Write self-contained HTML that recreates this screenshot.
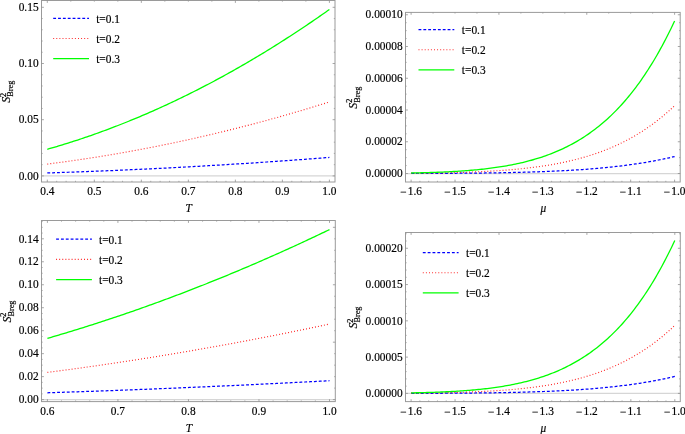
<!DOCTYPE html>
<html><head><meta charset="utf-8"><style>
html,body{margin:0;padding:0;background:#fff;overflow:hidden;}
svg{display:block;font-family:"Liberation Serif",serif;filter:opacity(1);}
text{fill:#000;stroke:#000;stroke-width:0.18px;}
</style></head><body>
<svg width="685" height="434" viewBox="0 0 685 434">
<rect width="685" height="434" fill="#fff"/>
<line x1="41.50" y1="175.90" x2="335.00" y2="175.90" stroke="#d6d6d6" stroke-width="1.25" />
<path d="M47.30,172.94 L49.19,172.88 L51.09,172.82 L52.98,172.76 L54.87,172.70 L56.77,172.64 L58.66,172.57 L60.55,172.51 L62.45,172.45 L64.34,172.38 L66.23,172.32 L68.13,172.25 L70.02,172.18 L71.91,172.12 L73.81,172.05 L75.70,171.98 L77.59,171.91 L79.49,171.84 L81.38,171.77 L83.27,171.70 L85.17,171.63 L87.06,171.56 L88.95,171.49 L90.85,171.41 L92.74,171.34 L94.63,171.27 L96.53,171.19 L98.42,171.11 L100.31,171.04 L102.21,170.96 L104.10,170.88 L105.99,170.81 L107.89,170.73 L109.78,170.65 L111.67,170.57 L113.57,170.49 L115.46,170.41 L117.35,170.33 L119.24,170.25 L121.14,170.16 L123.03,170.08 L124.92,170.00 L126.82,169.91 L128.71,169.83 L130.60,169.74 L132.50,169.65 L134.39,169.57 L136.28,169.48 L138.18,169.39 L140.07,169.30 L141.96,169.21 L143.86,169.12 L145.75,169.03 L147.64,168.94 L149.54,168.85 L151.43,168.76 L153.32,168.67 L155.22,168.57 L157.11,168.48 L159.00,168.38 L160.90,168.29 L162.79,168.19 L164.68,168.10 L166.58,168.00 L168.47,167.90 L170.36,167.80 L172.26,167.70 L174.15,167.60 L176.04,167.50 L177.94,167.40 L179.83,167.30 L181.72,167.20 L183.62,167.10 L185.51,167.00 L187.40,166.89 L189.30,166.79 L191.19,166.68 L193.08,166.58 L194.98,166.47 L196.87,166.36 L198.76,166.26 L200.66,166.15 L202.55,166.04 L204.44,165.93 L206.34,165.82 L208.23,165.71 L210.12,165.60 L212.02,165.49 L213.91,165.38 L215.80,165.27 L217.70,165.15 L219.59,165.04 L221.48,164.92 L223.38,164.81 L225.27,164.69 L227.16,164.58 L229.06,164.46 L230.95,164.34 L232.84,164.22 L234.74,164.11 L236.63,163.99 L238.52,163.87 L240.42,163.75 L242.31,163.63 L244.20,163.50 L246.10,163.38 L247.99,163.26 L249.88,163.14 L251.78,163.01 L253.67,162.89 L255.56,162.76 L257.46,162.64 L259.35,162.51 L261.24,162.38 L263.13,162.25 L265.03,162.13 L266.92,162.00 L268.81,161.87 L270.71,161.74 L272.60,161.61 L274.49,161.48 L276.39,161.34 L278.28,161.21 L280.17,161.08 L282.07,160.95 L283.96,160.81 L285.85,160.68 L287.75,160.54 L289.64,160.41 L291.53,160.27 L293.43,160.13 L295.32,159.99 L297.21,159.86 L299.11,159.72 L301.00,159.58 L302.89,159.44 L304.79,159.30 L306.68,159.15 L308.57,159.01 L310.47,158.87 L312.36,158.73 L314.25,158.58 L316.15,158.44 L318.04,158.29 L319.93,158.15 L321.83,158.00 L323.72,157.85 L325.61,157.71 L327.51,157.56 L329.40,157.41" fill="none" stroke="#0000ff" stroke-width="1.25" stroke-dasharray="2.9 1.95"/>
<path d="M47.30,164.07 L49.19,163.83 L51.09,163.59 L52.98,163.34 L54.87,163.09 L56.77,162.85 L58.66,162.59 L60.55,162.34 L62.45,162.08 L64.34,161.83 L66.23,161.56 L68.13,161.30 L70.02,161.03 L71.91,160.77 L73.81,160.50 L75.70,160.22 L77.59,159.95 L79.49,159.67 L81.38,159.39 L83.27,159.11 L85.17,158.82 L87.06,158.53 L88.95,158.24 L90.85,157.95 L92.74,157.66 L94.63,157.36 L96.53,157.06 L98.42,156.76 L100.31,156.46 L102.21,156.15 L104.10,155.84 L105.99,155.53 L107.89,155.21 L109.78,154.90 L111.67,154.58 L113.57,154.26 L115.46,153.94 L117.35,153.61 L119.24,153.28 L121.14,152.95 L123.03,152.62 L124.92,152.28 L126.82,151.94 L128.71,151.60 L130.60,151.26 L132.50,150.92 L134.39,150.57 L136.28,150.22 L138.18,149.87 L140.07,149.51 L141.96,149.16 L143.86,148.80 L145.75,148.43 L147.64,148.07 L149.54,147.70 L151.43,147.33 L153.32,146.96 L155.22,146.59 L157.11,146.21 L159.00,145.83 L160.90,145.45 L162.79,145.07 L164.68,144.68 L166.58,144.30 L168.47,143.91 L170.36,143.51 L172.26,143.12 L174.15,142.72 L176.04,142.32 L177.94,141.92 L179.83,141.51 L181.72,141.10 L183.62,140.70 L185.51,140.28 L187.40,139.87 L189.30,139.45 L191.19,139.03 L193.08,138.61 L194.98,138.19 L196.87,137.76 L198.76,137.33 L200.66,136.90 L202.55,136.47 L204.44,136.03 L206.34,135.59 L208.23,135.15 L210.12,134.71 L212.02,134.26 L213.91,133.81 L215.80,133.36 L217.70,132.91 L219.59,132.45 L221.48,132.00 L223.38,131.54 L225.27,131.07 L227.16,130.61 L229.06,130.14 L230.95,129.67 L232.84,129.20 L234.74,128.73 L236.63,128.25 L238.52,127.77 L240.42,127.29 L242.31,126.80 L244.20,126.32 L246.10,125.83 L247.99,125.34 L249.88,124.84 L251.78,124.35 L253.67,123.85 L255.56,123.35 L257.46,122.84 L259.35,122.34 L261.24,121.83 L263.13,121.32 L265.03,120.81 L266.92,120.29 L268.81,119.77 L270.71,119.25 L272.60,118.73 L274.49,118.21 L276.39,117.68 L278.28,117.15 L280.17,116.62 L282.07,116.08 L283.96,115.55 L285.85,115.01 L287.75,114.47 L289.64,113.92 L291.53,113.37 L293.43,112.83 L295.32,112.27 L297.21,111.72 L299.11,111.16 L301.00,110.61 L302.89,110.05 L304.79,109.48 L306.68,108.92 L308.57,108.35 L310.47,107.78 L312.36,107.21 L314.25,106.63 L316.15,106.05 L318.04,105.47 L319.93,104.89 L321.83,104.30 L323.72,103.72 L325.61,103.13 L327.51,102.54 L329.40,101.94" fill="none" stroke="#ff2020" stroke-width="1.15" stroke-dasharray="0.95 2.1"/>
<path d="M47.30,149.27 L49.19,148.74 L51.09,148.19 L52.98,147.64 L54.87,147.09 L56.77,146.53 L58.66,145.96 L60.55,145.39 L62.45,144.81 L64.34,144.23 L66.23,143.64 L68.13,143.05 L70.02,142.45 L71.91,141.85 L73.81,141.24 L75.70,140.63 L77.59,140.01 L79.49,139.38 L81.38,138.75 L83.27,138.12 L85.17,137.47 L87.06,136.83 L88.95,136.18 L90.85,135.52 L92.74,134.85 L94.63,134.19 L96.53,133.51 L98.42,132.83 L100.31,132.15 L102.21,131.46 L104.10,130.76 L105.99,130.06 L107.89,129.36 L109.78,128.65 L111.67,127.93 L113.57,127.21 L115.46,126.48 L117.35,125.75 L119.24,125.01 L121.14,124.26 L123.03,123.51 L124.92,122.76 L126.82,122.00 L128.71,121.23 L130.60,120.46 L132.50,119.69 L134.39,118.91 L136.28,118.12 L138.18,117.33 L140.07,116.53 L141.96,115.72 L143.86,114.92 L145.75,114.10 L147.64,113.28 L149.54,112.46 L151.43,111.63 L153.32,110.79 L155.22,109.95 L157.11,109.11 L159.00,108.25 L160.90,107.40 L162.79,106.53 L164.68,105.67 L166.58,104.79 L168.47,103.91 L170.36,103.03 L172.26,102.14 L174.15,101.24 L176.04,100.34 L177.94,99.44 L179.83,98.53 L181.72,97.61 L183.62,96.69 L185.51,95.76 L187.40,94.83 L189.30,93.89 L191.19,92.95 L193.08,92.00 L194.98,91.04 L196.87,90.08 L198.76,89.12 L200.66,88.15 L202.55,87.17 L204.44,86.19 L206.34,85.20 L208.23,84.21 L210.12,83.22 L212.02,82.21 L213.91,81.20 L215.80,80.19 L217.70,79.17 L219.59,78.15 L221.48,77.12 L223.38,76.08 L225.27,75.04 L227.16,73.99 L229.06,72.94 L230.95,71.89 L232.84,70.82 L234.74,69.76 L236.63,68.68 L238.52,67.61 L240.42,66.52 L242.31,65.43 L244.20,64.34 L246.10,63.24 L247.99,62.13 L249.88,61.02 L251.78,59.90 L253.67,58.78 L255.56,57.66 L257.46,56.52 L259.35,55.39 L261.24,54.24 L263.13,53.09 L265.03,51.94 L266.92,50.78 L268.81,49.62 L270.71,48.45 L272.60,47.27 L274.49,46.09 L276.39,44.90 L278.28,43.71 L280.17,42.51 L282.07,41.31 L283.96,40.10 L285.85,38.89 L287.75,37.67 L289.64,36.45 L291.53,35.22 L293.43,33.98 L295.32,32.74 L297.21,31.50 L299.11,30.25 L301.00,28.99 L302.89,27.73 L304.79,26.46 L306.68,25.19 L308.57,23.91 L310.47,22.63 L312.36,21.34 L314.25,20.04 L316.15,18.74 L318.04,17.44 L319.93,16.13 L321.83,14.81 L323.72,13.49 L325.61,12.16 L327.51,10.83 L329.40,9.49" fill="none" stroke="#00ff00" stroke-width="1.3" />
<rect x="41.50" y="0.50" width="293.50" height="181.50" fill="none" stroke="#9a9a9a" stroke-width="1"/>
<line x1="47.30" y1="182.00" x2="47.30" y2="179.60" stroke="#909090" stroke-width="0.8" />
<line x1="94.32" y1="182.00" x2="94.32" y2="179.60" stroke="#909090" stroke-width="0.8" />
<line x1="141.33" y1="182.00" x2="141.33" y2="179.60" stroke="#909090" stroke-width="0.8" />
<line x1="188.35" y1="182.00" x2="188.35" y2="179.60" stroke="#909090" stroke-width="0.8" />
<line x1="235.37" y1="182.00" x2="235.37" y2="179.60" stroke="#909090" stroke-width="0.8" />
<line x1="282.38" y1="182.00" x2="282.38" y2="179.60" stroke="#909090" stroke-width="0.8" />
<line x1="329.40" y1="182.00" x2="329.40" y2="179.60" stroke="#909090" stroke-width="0.8" />
<line x1="56.70" y1="182.00" x2="56.70" y2="180.80" stroke="#909090" stroke-width="0.7" />
<line x1="66.11" y1="182.00" x2="66.11" y2="180.80" stroke="#909090" stroke-width="0.7" />
<line x1="75.51" y1="182.00" x2="75.51" y2="180.80" stroke="#909090" stroke-width="0.7" />
<line x1="84.91" y1="182.00" x2="84.91" y2="180.80" stroke="#909090" stroke-width="0.7" />
<line x1="103.72" y1="182.00" x2="103.72" y2="180.80" stroke="#909090" stroke-width="0.7" />
<line x1="113.12" y1="182.00" x2="113.12" y2="180.80" stroke="#909090" stroke-width="0.7" />
<line x1="122.53" y1="182.00" x2="122.53" y2="180.80" stroke="#909090" stroke-width="0.7" />
<line x1="131.93" y1="182.00" x2="131.93" y2="180.80" stroke="#909090" stroke-width="0.7" />
<line x1="150.74" y1="182.00" x2="150.74" y2="180.80" stroke="#909090" stroke-width="0.7" />
<line x1="160.14" y1="182.00" x2="160.14" y2="180.80" stroke="#909090" stroke-width="0.7" />
<line x1="169.54" y1="182.00" x2="169.54" y2="180.80" stroke="#909090" stroke-width="0.7" />
<line x1="178.95" y1="182.00" x2="178.95" y2="180.80" stroke="#909090" stroke-width="0.7" />
<line x1="197.75" y1="182.00" x2="197.75" y2="180.80" stroke="#909090" stroke-width="0.7" />
<line x1="207.16" y1="182.00" x2="207.16" y2="180.80" stroke="#909090" stroke-width="0.7" />
<line x1="216.56" y1="182.00" x2="216.56" y2="180.80" stroke="#909090" stroke-width="0.7" />
<line x1="225.96" y1="182.00" x2="225.96" y2="180.80" stroke="#909090" stroke-width="0.7" />
<line x1="244.77" y1="182.00" x2="244.77" y2="180.80" stroke="#909090" stroke-width="0.7" />
<line x1="254.17" y1="182.00" x2="254.17" y2="180.80" stroke="#909090" stroke-width="0.7" />
<line x1="263.58" y1="182.00" x2="263.58" y2="180.80" stroke="#909090" stroke-width="0.7" />
<line x1="272.98" y1="182.00" x2="272.98" y2="180.80" stroke="#909090" stroke-width="0.7" />
<line x1="291.79" y1="182.00" x2="291.79" y2="180.80" stroke="#909090" stroke-width="0.7" />
<line x1="301.19" y1="182.00" x2="301.19" y2="180.80" stroke="#909090" stroke-width="0.7" />
<line x1="310.59" y1="182.00" x2="310.59" y2="180.80" stroke="#909090" stroke-width="0.7" />
<line x1="320.00" y1="182.00" x2="320.00" y2="180.80" stroke="#909090" stroke-width="0.7" />
<line x1="47.30" y1="0.50" x2="47.30" y2="2.90" stroke="#909090" stroke-width="0.8" />
<line x1="141.33" y1="0.50" x2="141.33" y2="2.90" stroke="#909090" stroke-width="0.8" />
<line x1="235.37" y1="0.50" x2="235.37" y2="2.90" stroke="#909090" stroke-width="0.8" />
<line x1="329.40" y1="0.50" x2="329.40" y2="2.90" stroke="#909090" stroke-width="0.8" />
<line x1="70.81" y1="0.50" x2="70.81" y2="1.70" stroke="#909090" stroke-width="0.7" />
<line x1="94.32" y1="0.50" x2="94.32" y2="1.70" stroke="#909090" stroke-width="0.7" />
<line x1="117.83" y1="0.50" x2="117.83" y2="1.70" stroke="#909090" stroke-width="0.7" />
<line x1="164.84" y1="0.50" x2="164.84" y2="1.70" stroke="#909090" stroke-width="0.7" />
<line x1="188.35" y1="0.50" x2="188.35" y2="1.70" stroke="#909090" stroke-width="0.7" />
<line x1="211.86" y1="0.50" x2="211.86" y2="1.70" stroke="#909090" stroke-width="0.7" />
<line x1="258.88" y1="0.50" x2="258.88" y2="1.70" stroke="#909090" stroke-width="0.7" />
<line x1="282.38" y1="0.50" x2="282.38" y2="1.70" stroke="#909090" stroke-width="0.7" />
<line x1="305.89" y1="0.50" x2="305.89" y2="1.70" stroke="#909090" stroke-width="0.7" />
<line x1="41.50" y1="175.90" x2="43.90" y2="175.90" stroke="#909090" stroke-width="0.8" />
<line x1="41.50" y1="119.70" x2="43.90" y2="119.70" stroke="#909090" stroke-width="0.8" />
<line x1="41.50" y1="63.50" x2="43.90" y2="63.50" stroke="#909090" stroke-width="0.8" />
<line x1="41.50" y1="7.30" x2="43.90" y2="7.30" stroke="#909090" stroke-width="0.8" />
<line x1="41.50" y1="164.66" x2="42.70" y2="164.66" stroke="#909090" stroke-width="0.7" />
<line x1="41.50" y1="153.42" x2="42.70" y2="153.42" stroke="#909090" stroke-width="0.7" />
<line x1="41.50" y1="142.18" x2="42.70" y2="142.18" stroke="#909090" stroke-width="0.7" />
<line x1="41.50" y1="130.94" x2="42.70" y2="130.94" stroke="#909090" stroke-width="0.7" />
<line x1="41.50" y1="108.46" x2="42.70" y2="108.46" stroke="#909090" stroke-width="0.7" />
<line x1="41.50" y1="97.22" x2="42.70" y2="97.22" stroke="#909090" stroke-width="0.7" />
<line x1="41.50" y1="85.98" x2="42.70" y2="85.98" stroke="#909090" stroke-width="0.7" />
<line x1="41.50" y1="74.74" x2="42.70" y2="74.74" stroke="#909090" stroke-width="0.7" />
<line x1="41.50" y1="52.26" x2="42.70" y2="52.26" stroke="#909090" stroke-width="0.7" />
<line x1="41.50" y1="41.02" x2="42.70" y2="41.02" stroke="#909090" stroke-width="0.7" />
<line x1="41.50" y1="29.78" x2="42.70" y2="29.78" stroke="#909090" stroke-width="0.7" />
<line x1="41.50" y1="18.54" x2="42.70" y2="18.54" stroke="#909090" stroke-width="0.7" />
<line x1="335.00" y1="175.90" x2="332.60" y2="175.90" stroke="#909090" stroke-width="0.8" />
<line x1="335.00" y1="119.70" x2="332.60" y2="119.70" stroke="#909090" stroke-width="0.8" />
<line x1="335.00" y1="63.50" x2="332.60" y2="63.50" stroke="#909090" stroke-width="0.8" />
<line x1="335.00" y1="7.30" x2="332.60" y2="7.30" stroke="#909090" stroke-width="0.8" />
<line x1="335.00" y1="164.66" x2="333.80" y2="164.66" stroke="#909090" stroke-width="0.7" />
<line x1="335.00" y1="153.42" x2="333.80" y2="153.42" stroke="#909090" stroke-width="0.7" />
<line x1="335.00" y1="142.18" x2="333.80" y2="142.18" stroke="#909090" stroke-width="0.7" />
<line x1="335.00" y1="130.94" x2="333.80" y2="130.94" stroke="#909090" stroke-width="0.7" />
<line x1="335.00" y1="108.46" x2="333.80" y2="108.46" stroke="#909090" stroke-width="0.7" />
<line x1="335.00" y1="97.22" x2="333.80" y2="97.22" stroke="#909090" stroke-width="0.7" />
<line x1="335.00" y1="85.98" x2="333.80" y2="85.98" stroke="#909090" stroke-width="0.7" />
<line x1="335.00" y1="74.74" x2="333.80" y2="74.74" stroke="#909090" stroke-width="0.7" />
<line x1="335.00" y1="52.26" x2="333.80" y2="52.26" stroke="#909090" stroke-width="0.7" />
<line x1="335.00" y1="41.02" x2="333.80" y2="41.02" stroke="#909090" stroke-width="0.7" />
<line x1="335.00" y1="29.78" x2="333.80" y2="29.78" stroke="#909090" stroke-width="0.7" />
<line x1="335.00" y1="18.54" x2="333.80" y2="18.54" stroke="#909090" stroke-width="0.7" />
<text transform="translate(47.30,195.00) scale(0.95,1)" text-anchor="middle" font-size="12.0">0.4</text>
<text transform="translate(94.32,195.00) scale(0.95,1)" text-anchor="middle" font-size="12.0">0.5</text>
<text transform="translate(141.33,195.00) scale(0.95,1)" text-anchor="middle" font-size="12.0">0.6</text>
<text transform="translate(188.35,195.00) scale(0.95,1)" text-anchor="middle" font-size="12.0">0.7</text>
<text transform="translate(235.37,195.00) scale(0.95,1)" text-anchor="middle" font-size="12.0">0.8</text>
<text transform="translate(282.38,195.00) scale(0.95,1)" text-anchor="middle" font-size="12.0">0.9</text>
<text transform="translate(329.40,195.00) scale(0.95,1)" text-anchor="middle" font-size="12.0">1.0</text>
<text transform="translate(38.60,179.60) scale(0.95,1)" text-anchor="end" font-size="12.0">0.00</text>
<text transform="translate(38.60,123.40) scale(0.95,1)" text-anchor="end" font-size="12.0">0.05</text>
<text transform="translate(38.60,67.20) scale(0.95,1)" text-anchor="end" font-size="12.0">0.10</text>
<text transform="translate(38.60,11.00) scale(0.95,1)" text-anchor="end" font-size="12.0">0.15</text>
<text transform="translate(188.65,211.60) scale(0.95,1)" text-anchor="middle" font-size="12.0" font-style="italic">T</text>
<text transform="translate(9.90,91.75) rotate(-90)" x="-11.07" y="0"><tspan font-style="italic" font-size="12.0">S</tspan><tspan font-size="8.3" dx="-0.1" dy="-4.4">2</tspan><tspan font-size="8.3" dx="-4.05" dy="7.40">Breg</tspan></text>
<line x1="53.20" y1="18.30" x2="89.00" y2="18.30" stroke="#0000ff" stroke-width="1.25" stroke-dasharray="2.85 2.0"/>
<text transform="translate(96.20,22.50) scale(0.95,1)" text-anchor="start" font-size="12.0">t=0.1</text>
<line x1="53.20" y1="38.50" x2="89.00" y2="38.50" stroke="#ff2020" stroke-width="1.15" stroke-dasharray="0.95 2.15"/>
<text transform="translate(96.20,42.70) scale(0.95,1)" text-anchor="start" font-size="12.0">t=0.2</text>
<line x1="53.20" y1="58.70" x2="89.00" y2="58.70" stroke="#00ff00" stroke-width="1.25" />
<text transform="translate(96.20,62.90) scale(0.95,1)" text-anchor="start" font-size="12.0">t=0.3</text>
<line x1="41.50" y1="399.60" x2="335.30" y2="399.60" stroke="#d6d6d6" stroke-width="1.25" />
<path d="M47.40,392.80 L49.29,392.74 L51.19,392.68 L53.08,392.61 L54.97,392.55 L56.87,392.49 L58.76,392.43 L60.65,392.37 L62.55,392.30 L64.44,392.24 L66.33,392.18 L68.23,392.11 L70.12,392.05 L72.01,391.98 L73.91,391.92 L75.80,391.86 L77.69,391.79 L79.59,391.72 L81.48,391.66 L83.37,391.59 L85.27,391.53 L87.16,391.46 L89.05,391.39 L90.95,391.33 L92.84,391.26 L94.73,391.19 L96.63,391.12 L98.52,391.06 L100.41,390.99 L102.31,390.92 L104.20,390.85 L106.09,390.78 L107.99,390.71 L109.88,390.64 L111.77,390.57 L113.67,390.50 L115.56,390.43 L117.45,390.36 L119.34,390.29 L121.24,390.22 L123.13,390.15 L125.02,390.07 L126.92,390.00 L128.81,389.93 L130.70,389.86 L132.60,389.78 L134.49,389.71 L136.38,389.64 L138.28,389.56 L140.17,389.49 L142.06,389.42 L143.96,389.34 L145.85,389.27 L147.74,389.19 L149.64,389.11 L151.53,389.04 L153.42,388.96 L155.32,388.89 L157.21,388.81 L159.10,388.73 L161.00,388.66 L162.89,388.58 L164.78,388.50 L166.68,388.42 L168.57,388.35 L170.46,388.27 L172.36,388.19 L174.25,388.11 L176.14,388.03 L178.04,387.95 L179.93,387.87 L181.82,387.79 L183.72,387.71 L185.61,387.63 L187.50,387.55 L189.40,387.47 L191.29,387.39 L193.18,387.30 L195.08,387.22 L196.97,387.14 L198.86,387.06 L200.76,386.98 L202.65,386.89 L204.54,386.81 L206.44,386.73 L208.33,386.64 L210.22,386.56 L212.12,386.47 L214.01,386.39 L215.90,386.30 L217.80,386.22 L219.69,386.13 L221.58,386.05 L223.48,385.96 L225.37,385.87 L227.26,385.79 L229.16,385.70 L231.05,385.61 L232.94,385.53 L234.84,385.44 L236.73,385.35 L238.62,385.26 L240.52,385.17 L242.41,385.09 L244.30,385.00 L246.20,384.91 L248.09,384.82 L249.98,384.73 L251.88,384.64 L253.77,384.55 L255.66,384.46 L257.56,384.37 L259.45,384.27 L261.34,384.18 L263.23,384.09 L265.13,384.00 L267.02,383.91 L268.91,383.81 L270.81,383.72 L272.70,383.63 L274.59,383.53 L276.49,383.44 L278.38,383.35 L280.27,383.25 L282.17,383.16 L284.06,383.06 L285.95,382.97 L287.85,382.87 L289.74,382.78 L291.63,382.68 L293.53,382.59 L295.42,382.49 L297.31,382.39 L299.21,382.30 L301.10,382.20 L302.99,382.10 L304.89,382.00 L306.78,381.90 L308.67,381.81 L310.57,381.71 L312.46,381.61 L314.35,381.51 L316.25,381.41 L318.14,381.31 L320.03,381.21 L321.93,381.11 L323.82,381.01 L325.71,380.91 L327.61,380.81 L329.50,380.71" fill="none" stroke="#0000ff" stroke-width="1.25" stroke-dasharray="2.9 1.95"/>
<path d="M47.40,372.39 L49.29,372.15 L51.19,371.91 L53.08,371.66 L54.97,371.41 L56.87,371.16 L58.76,370.91 L60.65,370.66 L62.55,370.41 L64.44,370.16 L66.33,369.91 L68.23,369.65 L70.12,369.39 L72.01,369.14 L73.91,368.88 L75.80,368.62 L77.69,368.36 L79.59,368.10 L81.48,367.84 L83.37,367.57 L85.27,367.31 L87.16,367.04 L89.05,366.77 L90.95,366.51 L92.84,366.24 L94.73,365.97 L96.63,365.70 L98.52,365.42 L100.41,365.15 L102.31,364.88 L104.20,364.60 L106.09,364.32 L107.99,364.05 L109.88,363.77 L111.77,363.49 L113.67,363.21 L115.56,362.92 L117.45,362.64 L119.34,362.36 L121.24,362.07 L123.13,361.78 L125.02,361.50 L126.92,361.21 L128.81,360.92 L130.70,360.63 L132.60,360.34 L134.49,360.04 L136.38,359.75 L138.28,359.45 L140.17,359.16 L142.06,358.86 L143.96,358.56 L145.85,358.26 L147.74,357.96 L149.64,357.66 L151.53,357.36 L153.42,357.05 L155.32,356.75 L157.21,356.44 L159.10,356.13 L161.00,355.83 L162.89,355.52 L164.78,355.21 L166.68,354.90 L168.57,354.58 L170.46,354.27 L172.36,353.95 L174.25,353.64 L176.14,353.32 L178.04,353.00 L179.93,352.68 L181.82,352.36 L183.72,352.04 L185.61,351.72 L187.50,351.40 L189.40,351.07 L191.29,350.75 L193.18,350.42 L195.08,350.09 L196.97,349.76 L198.86,349.43 L200.76,349.10 L202.65,348.77 L204.54,348.44 L206.44,348.10 L208.33,347.77 L210.22,347.43 L212.12,347.09 L214.01,346.75 L215.90,346.41 L217.80,346.07 L219.69,345.73 L221.58,345.39 L223.48,345.04 L225.37,344.70 L227.26,344.35 L229.16,344.00 L231.05,343.66 L232.94,343.31 L234.84,342.95 L236.73,342.60 L238.62,342.25 L240.52,341.90 L242.41,341.54 L244.30,341.18 L246.20,340.83 L248.09,340.47 L249.98,340.11 L251.88,339.75 L253.77,339.39 L255.66,339.02 L257.56,338.66 L259.45,338.30 L261.34,337.93 L263.23,337.56 L265.13,337.19 L267.02,336.83 L268.91,336.46 L270.81,336.08 L272.70,335.71 L274.59,335.34 L276.49,334.96 L278.38,334.59 L280.27,334.21 L282.17,333.83 L284.06,333.45 L285.95,333.07 L287.85,332.69 L289.74,332.31 L291.63,331.93 L293.53,331.54 L295.42,331.16 L297.31,330.77 L299.21,330.38 L301.10,329.99 L302.99,329.60 L304.89,329.21 L306.78,328.82 L308.67,328.43 L310.57,328.03 L312.46,327.64 L314.35,327.24 L316.25,326.84 L318.14,326.44 L320.03,326.04 L321.93,325.64 L323.82,325.24 L325.71,324.84 L327.61,324.43 L329.50,324.03" fill="none" stroke="#ff2020" stroke-width="1.15" stroke-dasharray="0.95 2.1"/>
<path d="M47.40,338.39 L49.29,337.84 L51.19,337.29 L53.08,336.73 L54.97,336.18 L56.87,335.62 L58.76,335.06 L60.65,334.49 L62.55,333.93 L64.44,333.36 L66.33,332.79 L68.23,332.21 L70.12,331.64 L72.01,331.06 L73.91,330.48 L75.80,329.90 L77.69,329.31 L79.59,328.72 L81.48,328.13 L83.37,327.54 L85.27,326.94 L87.16,326.34 L89.05,325.74 L90.95,325.14 L92.84,324.54 L94.73,323.93 L96.63,323.32 L98.52,322.70 L100.41,322.09 L102.31,321.47 L104.20,320.85 L106.09,320.23 L107.99,319.60 L109.88,318.98 L111.77,318.35 L113.67,317.71 L115.56,317.08 L117.45,316.44 L119.34,315.80 L121.24,315.16 L123.13,314.52 L125.02,313.87 L126.92,313.22 L128.81,312.57 L130.70,311.91 L132.60,311.26 L134.49,310.60 L136.38,309.94 L138.28,309.27 L140.17,308.60 L142.06,307.94 L143.96,307.26 L145.85,306.59 L147.74,305.91 L149.64,305.23 L151.53,304.55 L153.42,303.87 L155.32,303.18 L157.21,302.49 L159.10,301.80 L161.00,301.11 L162.89,300.41 L164.78,299.72 L166.68,299.01 L168.57,298.31 L170.46,297.61 L172.36,296.90 L174.25,296.19 L176.14,295.47 L178.04,294.76 L179.93,294.04 L181.82,293.32 L183.72,292.60 L185.61,291.87 L187.50,291.14 L189.40,290.41 L191.29,289.68 L193.18,288.94 L195.08,288.21 L196.97,287.47 L198.86,286.72 L200.76,285.98 L202.65,285.23 L204.54,284.48 L206.44,283.73 L208.33,282.97 L210.22,282.22 L212.12,281.46 L214.01,280.69 L215.90,279.93 L217.80,279.16 L219.69,278.39 L221.58,277.62 L223.48,276.85 L225.37,276.07 L227.26,275.29 L229.16,274.51 L231.05,273.72 L232.94,272.94 L234.84,272.15 L236.73,271.36 L238.62,270.56 L240.52,269.77 L242.41,268.97 L244.30,268.17 L246.20,267.36 L248.09,266.56 L249.98,265.75 L251.88,264.94 L253.77,264.12 L255.66,263.31 L257.56,262.49 L259.45,261.67 L261.34,260.84 L263.23,260.02 L265.13,259.19 L267.02,258.36 L268.91,257.52 L270.81,256.69 L272.70,255.85 L274.59,255.01 L276.49,254.17 L278.38,253.32 L280.27,252.47 L282.17,251.62 L284.06,250.77 L285.95,249.91 L287.85,249.06 L289.74,248.20 L291.63,247.33 L293.53,246.47 L295.42,245.60 L297.31,244.73 L299.21,243.86 L301.10,242.98 L302.99,242.11 L304.89,241.23 L306.78,240.34 L308.67,239.46 L310.57,238.57 L312.46,237.68 L314.35,236.79 L316.25,235.90 L318.14,235.00 L320.03,234.10 L321.93,233.20 L323.82,232.29 L325.71,231.39 L327.61,230.48 L329.50,229.56" fill="none" stroke="#00ff00" stroke-width="1.3" />
<rect x="41.50" y="220.50" width="293.80" height="181.10" fill="none" stroke="#9a9a9a" stroke-width="1"/>
<line x1="47.40" y1="401.60" x2="47.40" y2="399.20" stroke="#909090" stroke-width="0.8" />
<line x1="117.92" y1="401.60" x2="117.92" y2="399.20" stroke="#909090" stroke-width="0.8" />
<line x1="188.45" y1="401.60" x2="188.45" y2="399.20" stroke="#909090" stroke-width="0.8" />
<line x1="258.98" y1="401.60" x2="258.98" y2="399.20" stroke="#909090" stroke-width="0.8" />
<line x1="329.50" y1="401.60" x2="329.50" y2="399.20" stroke="#909090" stroke-width="0.8" />
<line x1="61.51" y1="401.60" x2="61.51" y2="400.40" stroke="#909090" stroke-width="0.7" />
<line x1="75.61" y1="401.60" x2="75.61" y2="400.40" stroke="#909090" stroke-width="0.7" />
<line x1="89.71" y1="401.60" x2="89.71" y2="400.40" stroke="#909090" stroke-width="0.7" />
<line x1="103.82" y1="401.60" x2="103.82" y2="400.40" stroke="#909090" stroke-width="0.7" />
<line x1="132.03" y1="401.60" x2="132.03" y2="400.40" stroke="#909090" stroke-width="0.7" />
<line x1="146.14" y1="401.60" x2="146.14" y2="400.40" stroke="#909090" stroke-width="0.7" />
<line x1="160.24" y1="401.60" x2="160.24" y2="400.40" stroke="#909090" stroke-width="0.7" />
<line x1="174.35" y1="401.60" x2="174.35" y2="400.40" stroke="#909090" stroke-width="0.7" />
<line x1="202.55" y1="401.60" x2="202.55" y2="400.40" stroke="#909090" stroke-width="0.7" />
<line x1="216.66" y1="401.60" x2="216.66" y2="400.40" stroke="#909090" stroke-width="0.7" />
<line x1="230.77" y1="401.60" x2="230.77" y2="400.40" stroke="#909090" stroke-width="0.7" />
<line x1="244.87" y1="401.60" x2="244.87" y2="400.40" stroke="#909090" stroke-width="0.7" />
<line x1="273.08" y1="401.60" x2="273.08" y2="400.40" stroke="#909090" stroke-width="0.7" />
<line x1="287.19" y1="401.60" x2="287.19" y2="400.40" stroke="#909090" stroke-width="0.7" />
<line x1="301.29" y1="401.60" x2="301.29" y2="400.40" stroke="#909090" stroke-width="0.7" />
<line x1="315.39" y1="401.60" x2="315.39" y2="400.40" stroke="#909090" stroke-width="0.7" />
<line x1="47.40" y1="220.50" x2="47.40" y2="222.90" stroke="#909090" stroke-width="0.8" />
<line x1="117.92" y1="220.50" x2="117.92" y2="222.90" stroke="#909090" stroke-width="0.8" />
<line x1="188.45" y1="220.50" x2="188.45" y2="222.90" stroke="#909090" stroke-width="0.8" />
<line x1="258.98" y1="220.50" x2="258.98" y2="222.90" stroke="#909090" stroke-width="0.8" />
<line x1="329.50" y1="220.50" x2="329.50" y2="222.90" stroke="#909090" stroke-width="0.8" />
<line x1="61.51" y1="220.50" x2="61.51" y2="221.70" stroke="#909090" stroke-width="0.7" />
<line x1="75.61" y1="220.50" x2="75.61" y2="221.70" stroke="#909090" stroke-width="0.7" />
<line x1="89.71" y1="220.50" x2="89.71" y2="221.70" stroke="#909090" stroke-width="0.7" />
<line x1="103.82" y1="220.50" x2="103.82" y2="221.70" stroke="#909090" stroke-width="0.7" />
<line x1="132.03" y1="220.50" x2="132.03" y2="221.70" stroke="#909090" stroke-width="0.7" />
<line x1="146.14" y1="220.50" x2="146.14" y2="221.70" stroke="#909090" stroke-width="0.7" />
<line x1="160.24" y1="220.50" x2="160.24" y2="221.70" stroke="#909090" stroke-width="0.7" />
<line x1="174.35" y1="220.50" x2="174.35" y2="221.70" stroke="#909090" stroke-width="0.7" />
<line x1="202.55" y1="220.50" x2="202.55" y2="221.70" stroke="#909090" stroke-width="0.7" />
<line x1="216.66" y1="220.50" x2="216.66" y2="221.70" stroke="#909090" stroke-width="0.7" />
<line x1="230.77" y1="220.50" x2="230.77" y2="221.70" stroke="#909090" stroke-width="0.7" />
<line x1="244.87" y1="220.50" x2="244.87" y2="221.70" stroke="#909090" stroke-width="0.7" />
<line x1="273.08" y1="220.50" x2="273.08" y2="221.70" stroke="#909090" stroke-width="0.7" />
<line x1="287.19" y1="220.50" x2="287.19" y2="221.70" stroke="#909090" stroke-width="0.7" />
<line x1="301.29" y1="220.50" x2="301.29" y2="221.70" stroke="#909090" stroke-width="0.7" />
<line x1="315.39" y1="220.50" x2="315.39" y2="221.70" stroke="#909090" stroke-width="0.7" />
<line x1="41.50" y1="399.60" x2="43.90" y2="399.60" stroke="#909090" stroke-width="0.8" />
<line x1="41.50" y1="376.63" x2="43.90" y2="376.63" stroke="#909090" stroke-width="0.8" />
<line x1="41.50" y1="353.66" x2="43.90" y2="353.66" stroke="#909090" stroke-width="0.8" />
<line x1="41.50" y1="330.69" x2="43.90" y2="330.69" stroke="#909090" stroke-width="0.8" />
<line x1="41.50" y1="307.72" x2="43.90" y2="307.72" stroke="#909090" stroke-width="0.8" />
<line x1="41.50" y1="284.75" x2="43.90" y2="284.75" stroke="#909090" stroke-width="0.8" />
<line x1="41.50" y1="261.78" x2="43.90" y2="261.78" stroke="#909090" stroke-width="0.8" />
<line x1="41.50" y1="238.81" x2="43.90" y2="238.81" stroke="#909090" stroke-width="0.8" />
<line x1="41.50" y1="393.86" x2="42.70" y2="393.86" stroke="#909090" stroke-width="0.7" />
<line x1="41.50" y1="388.12" x2="42.70" y2="388.12" stroke="#909090" stroke-width="0.7" />
<line x1="41.50" y1="382.37" x2="42.70" y2="382.37" stroke="#909090" stroke-width="0.7" />
<line x1="41.50" y1="370.89" x2="42.70" y2="370.89" stroke="#909090" stroke-width="0.7" />
<line x1="41.50" y1="365.15" x2="42.70" y2="365.15" stroke="#909090" stroke-width="0.7" />
<line x1="41.50" y1="359.40" x2="42.70" y2="359.40" stroke="#909090" stroke-width="0.7" />
<line x1="41.50" y1="347.92" x2="42.70" y2="347.92" stroke="#909090" stroke-width="0.7" />
<line x1="41.50" y1="342.18" x2="42.70" y2="342.18" stroke="#909090" stroke-width="0.7" />
<line x1="41.50" y1="336.43" x2="42.70" y2="336.43" stroke="#909090" stroke-width="0.7" />
<line x1="41.50" y1="324.95" x2="42.70" y2="324.95" stroke="#909090" stroke-width="0.7" />
<line x1="41.50" y1="319.21" x2="42.70" y2="319.21" stroke="#909090" stroke-width="0.7" />
<line x1="41.50" y1="313.46" x2="42.70" y2="313.46" stroke="#909090" stroke-width="0.7" />
<line x1="41.50" y1="301.98" x2="42.70" y2="301.98" stroke="#909090" stroke-width="0.7" />
<line x1="41.50" y1="296.24" x2="42.70" y2="296.24" stroke="#909090" stroke-width="0.7" />
<line x1="41.50" y1="290.49" x2="42.70" y2="290.49" stroke="#909090" stroke-width="0.7" />
<line x1="41.50" y1="279.01" x2="42.70" y2="279.01" stroke="#909090" stroke-width="0.7" />
<line x1="41.50" y1="273.27" x2="42.70" y2="273.27" stroke="#909090" stroke-width="0.7" />
<line x1="41.50" y1="267.52" x2="42.70" y2="267.52" stroke="#909090" stroke-width="0.7" />
<line x1="41.50" y1="256.04" x2="42.70" y2="256.04" stroke="#909090" stroke-width="0.7" />
<line x1="41.50" y1="250.30" x2="42.70" y2="250.30" stroke="#909090" stroke-width="0.7" />
<line x1="41.50" y1="244.55" x2="42.70" y2="244.55" stroke="#909090" stroke-width="0.7" />
<line x1="41.50" y1="233.07" x2="42.70" y2="233.07" stroke="#909090" stroke-width="0.7" />
<line x1="41.50" y1="227.33" x2="42.70" y2="227.33" stroke="#909090" stroke-width="0.7" />
<line x1="41.50" y1="221.58" x2="42.70" y2="221.58" stroke="#909090" stroke-width="0.7" />
<line x1="335.30" y1="399.60" x2="332.90" y2="399.60" stroke="#909090" stroke-width="0.8" />
<line x1="335.30" y1="342.18" x2="332.90" y2="342.18" stroke="#909090" stroke-width="0.8" />
<line x1="335.30" y1="284.75" x2="332.90" y2="284.75" stroke="#909090" stroke-width="0.8" />
<line x1="335.30" y1="227.32" x2="332.90" y2="227.32" stroke="#909090" stroke-width="0.8" />
<line x1="335.30" y1="388.12" x2="334.10" y2="388.12" stroke="#909090" stroke-width="0.7" />
<line x1="335.30" y1="376.63" x2="334.10" y2="376.63" stroke="#909090" stroke-width="0.7" />
<line x1="335.30" y1="365.15" x2="334.10" y2="365.15" stroke="#909090" stroke-width="0.7" />
<line x1="335.30" y1="353.66" x2="334.10" y2="353.66" stroke="#909090" stroke-width="0.7" />
<line x1="335.30" y1="330.69" x2="334.10" y2="330.69" stroke="#909090" stroke-width="0.7" />
<line x1="335.30" y1="319.21" x2="334.10" y2="319.21" stroke="#909090" stroke-width="0.7" />
<line x1="335.30" y1="307.72" x2="334.10" y2="307.72" stroke="#909090" stroke-width="0.7" />
<line x1="335.30" y1="296.24" x2="334.10" y2="296.24" stroke="#909090" stroke-width="0.7" />
<line x1="335.30" y1="273.27" x2="334.10" y2="273.27" stroke="#909090" stroke-width="0.7" />
<line x1="335.30" y1="261.78" x2="334.10" y2="261.78" stroke="#909090" stroke-width="0.7" />
<line x1="335.30" y1="250.30" x2="334.10" y2="250.30" stroke="#909090" stroke-width="0.7" />
<line x1="335.30" y1="238.81" x2="334.10" y2="238.81" stroke="#909090" stroke-width="0.7" />
<text transform="translate(47.40,414.70) scale(0.95,1)" text-anchor="middle" font-size="12.0">0.6</text>
<text transform="translate(117.92,414.70) scale(0.95,1)" text-anchor="middle" font-size="12.0">0.7</text>
<text transform="translate(188.45,414.70) scale(0.95,1)" text-anchor="middle" font-size="12.0">0.8</text>
<text transform="translate(258.98,414.70) scale(0.95,1)" text-anchor="middle" font-size="12.0">0.9</text>
<text transform="translate(329.50,414.70) scale(0.95,1)" text-anchor="middle" font-size="12.0">1.0</text>
<text transform="translate(38.60,403.30) scale(0.95,1)" text-anchor="end" font-size="12.0">0.00</text>
<text transform="translate(38.60,380.33) scale(0.95,1)" text-anchor="end" font-size="12.0">0.02</text>
<text transform="translate(38.60,357.36) scale(0.95,1)" text-anchor="end" font-size="12.0">0.04</text>
<text transform="translate(38.60,334.39) scale(0.95,1)" text-anchor="end" font-size="12.0">0.06</text>
<text transform="translate(38.60,311.42) scale(0.95,1)" text-anchor="end" font-size="12.0">0.08</text>
<text transform="translate(38.60,288.45) scale(0.95,1)" text-anchor="end" font-size="12.0">0.10</text>
<text transform="translate(38.60,265.48) scale(0.95,1)" text-anchor="end" font-size="12.0">0.12</text>
<text transform="translate(38.60,242.51) scale(0.95,1)" text-anchor="end" font-size="12.0">0.14</text>
<text transform="translate(188.80,431.50) scale(0.95,1)" text-anchor="middle" font-size="12.0" font-style="italic">T</text>
<text transform="translate(10.80,311.55) rotate(-90)" x="-11.07" y="0"><tspan font-style="italic" font-size="12.0">S</tspan><tspan font-size="8.3" dx="-0.1" dy="-4.4">2</tspan><tspan font-size="8.3" dx="-4.05" dy="7.40">Breg</tspan></text>
<line x1="56.10" y1="239.20" x2="91.90" y2="239.20" stroke="#0000ff" stroke-width="1.25" stroke-dasharray="2.85 2.0"/>
<text transform="translate(99.00,243.60) scale(0.95,1)" text-anchor="start" font-size="12.0">t=0.1</text>
<line x1="56.10" y1="259.40" x2="91.90" y2="259.40" stroke="#ff2020" stroke-width="1.15" stroke-dasharray="0.95 2.15"/>
<text transform="translate(99.00,263.80) scale(0.95,1)" text-anchor="start" font-size="12.0">t=0.2</text>
<line x1="56.10" y1="279.60" x2="91.90" y2="279.60" stroke="#00ff00" stroke-width="1.25" />
<text transform="translate(99.00,284.00) scale(0.95,1)" text-anchor="start" font-size="12.0">t=0.3</text>
<line x1="405.50" y1="173.50" x2="680.20" y2="173.50" stroke="#d6d6d6" stroke-width="1.25" />
<path d="M411.10,173.44 L412.87,173.44 L414.64,173.43 L416.41,173.43 L418.17,173.43 L419.94,173.42 L421.71,173.42 L423.48,173.41 L425.25,173.41 L427.02,173.40 L428.78,173.39 L430.55,173.39 L432.32,173.38 L434.09,173.38 L435.86,173.37 L437.63,173.36 L439.40,173.35 L441.16,173.35 L442.93,173.34 L444.70,173.33 L446.47,173.32 L448.24,173.31 L450.01,173.30 L451.77,173.29 L453.54,173.28 L455.31,173.27 L457.08,173.25 L458.85,173.24 L460.62,173.23 L462.39,173.22 L464.15,173.20 L465.92,173.19 L467.69,173.17 L469.46,173.16 L471.23,173.14 L473.00,173.12 L474.76,173.10 L476.53,173.09 L478.30,173.07 L480.07,173.05 L481.84,173.03 L483.61,173.01 L485.38,172.98 L487.14,172.96 L488.91,172.94 L490.68,172.91 L492.45,172.89 L494.22,172.86 L495.99,172.83 L497.75,172.80 L499.52,172.77 L501.29,172.74 L503.06,172.71 L504.83,172.68 L506.60,172.64 L508.37,172.61 L510.13,172.57 L511.90,172.53 L513.67,172.49 L515.44,172.45 L517.21,172.41 L518.98,172.37 L520.74,172.33 L522.51,172.28 L524.28,172.23 L526.05,172.18 L527.82,172.13 L529.59,172.08 L531.36,172.03 L533.12,171.97 L534.89,171.92 L536.66,171.86 L538.43,171.80 L540.20,171.73 L541.97,171.67 L543.73,171.60 L545.50,171.53 L547.27,171.46 L549.04,171.39 L550.81,171.32 L552.58,171.24 L554.34,171.16 L556.11,171.08 L557.88,170.99 L559.65,170.91 L561.42,170.82 L563.19,170.73 L564.96,170.63 L566.72,170.54 L568.49,170.44 L570.26,170.34 L572.03,170.23 L573.80,170.12 L575.57,170.01 L577.33,169.90 L579.10,169.78 L580.87,169.66 L582.64,169.54 L584.41,169.41 L586.18,169.28 L587.95,169.15 L589.71,169.01 L591.48,168.87 L593.25,168.73 L595.02,168.58 L596.79,168.43 L598.56,168.27 L600.32,168.11 L602.09,167.95 L603.86,167.78 L605.63,167.61 L607.40,167.43 L609.17,167.25 L610.94,167.07 L612.70,166.88 L614.47,166.68 L616.24,166.48 L618.01,166.28 L619.78,166.07 L621.55,165.86 L623.31,165.64 L625.08,165.41 L626.85,165.18 L628.62,164.95 L630.39,164.71 L632.16,164.46 L633.93,164.21 L635.69,163.95 L637.46,163.69 L639.23,163.42 L641.00,163.14 L642.77,162.86 L644.54,162.57 L646.30,162.27 L648.07,161.97 L649.84,161.66 L651.61,161.35 L653.38,161.02 L655.15,160.69 L656.92,160.36 L658.68,160.01 L660.45,159.66 L662.22,159.30 L663.99,158.93 L665.76,158.56 L667.53,158.17 L669.29,157.78 L671.06,157.38 L672.83,156.97 L674.60,156.55" fill="none" stroke="#0000ff" stroke-width="1.25" stroke-dasharray="2.9 1.95"/>
<path d="M411.10,173.27 L412.87,173.25 L414.64,173.24 L416.41,173.22 L418.17,173.20 L419.94,173.19 L421.71,173.17 L423.48,173.15 L425.25,173.13 L427.02,173.10 L428.78,173.08 L430.55,173.06 L432.32,173.03 L434.09,173.00 L435.86,172.97 L437.63,172.95 L439.40,172.91 L441.16,172.88 L442.93,172.85 L444.70,172.81 L446.47,172.78 L448.24,172.74 L450.01,172.70 L451.77,172.66 L453.54,172.61 L455.31,172.57 L457.08,172.52 L458.85,172.47 L460.62,172.42 L462.39,172.36 L464.15,172.31 L465.92,172.25 L467.69,172.19 L469.46,172.13 L471.23,172.06 L473.00,171.99 L474.76,171.92 L476.53,171.85 L478.30,171.77 L480.07,171.69 L481.84,171.61 L483.61,171.52 L485.38,171.43 L487.14,171.34 L488.91,171.24 L490.68,171.14 L492.45,171.04 L494.22,170.93 L495.99,170.82 L497.75,170.71 L499.52,170.59 L501.29,170.47 L503.06,170.34 L504.83,170.21 L506.60,170.07 L508.37,169.93 L510.13,169.79 L511.90,169.64 L513.67,169.48 L515.44,169.32 L517.21,169.15 L518.98,168.98 L520.74,168.80 L522.51,168.62 L524.28,168.43 L526.05,168.23 L527.82,168.03 L529.59,167.82 L531.36,167.61 L533.12,167.39 L534.89,167.16 L536.66,166.92 L538.43,166.68 L540.20,166.43 L541.97,166.17 L543.73,165.91 L545.50,165.63 L547.27,165.35 L549.04,165.06 L550.81,164.76 L552.58,164.45 L554.34,164.14 L556.11,163.81 L557.88,163.48 L559.65,163.13 L561.42,162.78 L563.19,162.41 L564.96,162.03 L566.72,161.65 L568.49,161.25 L570.26,160.84 L572.03,160.42 L573.80,159.99 L575.57,159.55 L577.33,159.09 L579.10,158.63 L580.87,158.15 L582.64,157.65 L584.41,157.15 L586.18,156.63 L587.95,156.09 L589.71,155.55 L591.48,154.99 L593.25,154.41 L595.02,153.82 L596.79,153.21 L598.56,152.59 L600.32,151.95 L602.09,151.30 L603.86,150.62 L605.63,149.94 L607.40,149.23 L609.17,148.51 L610.94,147.77 L612.70,147.01 L614.47,146.23 L616.24,145.44 L618.01,144.62 L619.78,143.78 L621.55,142.93 L623.31,142.05 L625.08,141.15 L626.85,140.23 L628.62,139.29 L630.39,138.33 L632.16,137.35 L633.93,136.34 L635.69,135.31 L637.46,134.25 L639.23,133.17 L641.00,132.06 L642.77,130.93 L644.54,129.78 L646.30,128.60 L648.07,127.39 L649.84,126.15 L651.61,124.89 L653.38,123.60 L655.15,122.28 L656.92,120.93 L658.68,119.55 L660.45,118.14 L662.22,116.70 L663.99,115.23 L665.76,113.73 L667.53,112.19 L669.29,110.62 L671.06,109.02 L672.83,107.39 L674.60,105.72" fill="none" stroke="#ff2020" stroke-width="1.15" stroke-dasharray="0.95 2.1"/>
<path d="M411.10,172.98 L412.87,172.95 L414.64,172.91 L416.41,172.87 L418.17,172.83 L419.94,172.79 L421.71,172.75 L423.48,172.70 L425.25,172.66 L427.02,172.61 L428.78,172.55 L430.55,172.50 L432.32,172.44 L434.09,172.38 L435.86,172.32 L437.63,172.25 L439.40,172.18 L441.16,172.11 L442.93,172.03 L444.70,171.95 L446.47,171.87 L448.24,171.79 L450.01,171.69 L451.77,171.60 L453.54,171.50 L455.31,171.40 L457.08,171.29 L458.85,171.18 L460.62,171.06 L462.39,170.94 L464.15,170.82 L465.92,170.69 L467.69,170.55 L469.46,170.41 L471.23,170.26 L473.00,170.10 L474.76,169.94 L476.53,169.78 L478.30,169.61 L480.07,169.43 L481.84,169.24 L483.61,169.05 L485.38,168.85 L487.14,168.64 L488.91,168.42 L490.68,168.20 L492.45,167.97 L494.22,167.73 L495.99,167.48 L497.75,167.22 L499.52,166.95 L501.29,166.68 L503.06,166.39 L504.83,166.09 L506.60,165.79 L508.37,165.47 L510.13,165.14 L511.90,164.80 L513.67,164.45 L515.44,164.09 L517.21,163.72 L518.98,163.33 L520.74,162.93 L522.51,162.52 L524.28,162.09 L526.05,161.65 L527.82,161.20 L529.59,160.73 L531.36,160.25 L533.12,159.75 L534.89,159.24 L536.66,158.71 L538.43,158.16 L540.20,157.60 L541.97,157.02 L543.73,156.42 L545.50,155.80 L547.27,155.17 L549.04,154.51 L550.81,153.84 L552.58,153.15 L554.34,152.44 L556.11,151.70 L557.88,150.95 L559.65,150.17 L561.42,149.37 L563.19,148.55 L564.96,147.70 L566.72,146.83 L568.49,145.94 L570.26,145.02 L572.03,144.08 L573.80,143.11 L575.57,142.11 L577.33,141.09 L579.10,140.04 L580.87,138.96 L582.64,137.85 L584.41,136.71 L586.18,135.54 L587.95,134.34 L589.71,133.11 L591.48,131.84 L593.25,130.55 L595.02,129.21 L596.79,127.85 L598.56,126.45 L600.32,125.01 L602.09,123.54 L603.86,122.03 L605.63,120.48 L607.40,118.90 L609.17,117.27 L610.94,115.60 L612.70,113.90 L614.47,112.15 L616.24,110.35 L618.01,108.52 L619.78,106.64 L621.55,104.71 L623.31,102.74 L625.08,100.72 L626.85,98.65 L628.62,96.54 L630.39,94.37 L632.16,92.15 L633.93,89.88 L635.69,87.56 L637.46,85.19 L639.23,82.76 L641.00,80.27 L642.77,77.73 L644.54,75.13 L646.30,72.47 L648.07,69.75 L649.84,66.97 L651.61,64.12 L653.38,61.22 L655.15,58.25 L656.92,55.21 L658.68,52.11 L660.45,48.94 L662.22,45.70 L663.99,42.39 L665.76,39.01 L667.53,35.55 L669.29,32.03 L671.06,28.42 L672.83,24.74 L674.60,20.99" fill="none" stroke="#00ff00" stroke-width="1.3" />
<rect x="405.50" y="12.40" width="274.70" height="169.60" fill="none" stroke="#9a9a9a" stroke-width="1"/>
<line x1="411.10" y1="182.00" x2="411.10" y2="179.60" stroke="#909090" stroke-width="0.8" />
<line x1="455.02" y1="182.00" x2="455.02" y2="179.60" stroke="#909090" stroke-width="0.8" />
<line x1="498.93" y1="182.00" x2="498.93" y2="179.60" stroke="#909090" stroke-width="0.8" />
<line x1="542.85" y1="182.00" x2="542.85" y2="179.60" stroke="#909090" stroke-width="0.8" />
<line x1="586.77" y1="182.00" x2="586.77" y2="179.60" stroke="#909090" stroke-width="0.8" />
<line x1="630.68" y1="182.00" x2="630.68" y2="179.60" stroke="#909090" stroke-width="0.8" />
<line x1="674.60" y1="182.00" x2="674.60" y2="179.60" stroke="#909090" stroke-width="0.8" />
<line x1="419.88" y1="182.00" x2="419.88" y2="180.80" stroke="#909090" stroke-width="0.7" />
<line x1="428.67" y1="182.00" x2="428.67" y2="180.80" stroke="#909090" stroke-width="0.7" />
<line x1="437.45" y1="182.00" x2="437.45" y2="180.80" stroke="#909090" stroke-width="0.7" />
<line x1="446.23" y1="182.00" x2="446.23" y2="180.80" stroke="#909090" stroke-width="0.7" />
<line x1="463.80" y1="182.00" x2="463.80" y2="180.80" stroke="#909090" stroke-width="0.7" />
<line x1="472.58" y1="182.00" x2="472.58" y2="180.80" stroke="#909090" stroke-width="0.7" />
<line x1="481.37" y1="182.00" x2="481.37" y2="180.80" stroke="#909090" stroke-width="0.7" />
<line x1="490.15" y1="182.00" x2="490.15" y2="180.80" stroke="#909090" stroke-width="0.7" />
<line x1="507.72" y1="182.00" x2="507.72" y2="180.80" stroke="#909090" stroke-width="0.7" />
<line x1="516.50" y1="182.00" x2="516.50" y2="180.80" stroke="#909090" stroke-width="0.7" />
<line x1="525.28" y1="182.00" x2="525.28" y2="180.80" stroke="#909090" stroke-width="0.7" />
<line x1="534.07" y1="182.00" x2="534.07" y2="180.80" stroke="#909090" stroke-width="0.7" />
<line x1="551.63" y1="182.00" x2="551.63" y2="180.80" stroke="#909090" stroke-width="0.7" />
<line x1="560.42" y1="182.00" x2="560.42" y2="180.80" stroke="#909090" stroke-width="0.7" />
<line x1="569.20" y1="182.00" x2="569.20" y2="180.80" stroke="#909090" stroke-width="0.7" />
<line x1="577.98" y1="182.00" x2="577.98" y2="180.80" stroke="#909090" stroke-width="0.7" />
<line x1="595.55" y1="182.00" x2="595.55" y2="180.80" stroke="#909090" stroke-width="0.7" />
<line x1="604.33" y1="182.00" x2="604.33" y2="180.80" stroke="#909090" stroke-width="0.7" />
<line x1="613.12" y1="182.00" x2="613.12" y2="180.80" stroke="#909090" stroke-width="0.7" />
<line x1="621.90" y1="182.00" x2="621.90" y2="180.80" stroke="#909090" stroke-width="0.7" />
<line x1="639.47" y1="182.00" x2="639.47" y2="180.80" stroke="#909090" stroke-width="0.7" />
<line x1="648.25" y1="182.00" x2="648.25" y2="180.80" stroke="#909090" stroke-width="0.7" />
<line x1="657.03" y1="182.00" x2="657.03" y2="180.80" stroke="#909090" stroke-width="0.7" />
<line x1="665.82" y1="182.00" x2="665.82" y2="180.80" stroke="#909090" stroke-width="0.7" />
<line x1="411.10" y1="12.40" x2="411.10" y2="14.80" stroke="#909090" stroke-width="0.8" />
<line x1="498.93" y1="12.40" x2="498.93" y2="14.80" stroke="#909090" stroke-width="0.8" />
<line x1="586.77" y1="12.40" x2="586.77" y2="14.80" stroke="#909090" stroke-width="0.8" />
<line x1="674.60" y1="12.40" x2="674.60" y2="14.80" stroke="#909090" stroke-width="0.8" />
<line x1="433.06" y1="12.40" x2="433.06" y2="13.60" stroke="#909090" stroke-width="0.7" />
<line x1="455.02" y1="12.40" x2="455.02" y2="13.60" stroke="#909090" stroke-width="0.7" />
<line x1="476.97" y1="12.40" x2="476.97" y2="13.60" stroke="#909090" stroke-width="0.7" />
<line x1="520.89" y1="12.40" x2="520.89" y2="13.60" stroke="#909090" stroke-width="0.7" />
<line x1="542.85" y1="12.40" x2="542.85" y2="13.60" stroke="#909090" stroke-width="0.7" />
<line x1="564.81" y1="12.40" x2="564.81" y2="13.60" stroke="#909090" stroke-width="0.7" />
<line x1="608.72" y1="12.40" x2="608.72" y2="13.60" stroke="#909090" stroke-width="0.7" />
<line x1="630.68" y1="12.40" x2="630.68" y2="13.60" stroke="#909090" stroke-width="0.7" />
<line x1="652.64" y1="12.40" x2="652.64" y2="13.60" stroke="#909090" stroke-width="0.7" />
<line x1="405.50" y1="173.50" x2="407.90" y2="173.50" stroke="#909090" stroke-width="0.8" />
<line x1="405.50" y1="141.75" x2="407.90" y2="141.75" stroke="#909090" stroke-width="0.8" />
<line x1="405.50" y1="110.00" x2="407.90" y2="110.00" stroke="#909090" stroke-width="0.8" />
<line x1="405.50" y1="78.25" x2="407.90" y2="78.25" stroke="#909090" stroke-width="0.8" />
<line x1="405.50" y1="46.50" x2="407.90" y2="46.50" stroke="#909090" stroke-width="0.8" />
<line x1="405.50" y1="14.75" x2="407.90" y2="14.75" stroke="#909090" stroke-width="0.8" />
<line x1="405.50" y1="165.56" x2="406.70" y2="165.56" stroke="#909090" stroke-width="0.7" />
<line x1="405.50" y1="157.62" x2="406.70" y2="157.62" stroke="#909090" stroke-width="0.7" />
<line x1="405.50" y1="149.69" x2="406.70" y2="149.69" stroke="#909090" stroke-width="0.7" />
<line x1="405.50" y1="133.81" x2="406.70" y2="133.81" stroke="#909090" stroke-width="0.7" />
<line x1="405.50" y1="125.88" x2="406.70" y2="125.88" stroke="#909090" stroke-width="0.7" />
<line x1="405.50" y1="117.94" x2="406.70" y2="117.94" stroke="#909090" stroke-width="0.7" />
<line x1="405.50" y1="102.06" x2="406.70" y2="102.06" stroke="#909090" stroke-width="0.7" />
<line x1="405.50" y1="94.12" x2="406.70" y2="94.12" stroke="#909090" stroke-width="0.7" />
<line x1="405.50" y1="86.19" x2="406.70" y2="86.19" stroke="#909090" stroke-width="0.7" />
<line x1="405.50" y1="70.31" x2="406.70" y2="70.31" stroke="#909090" stroke-width="0.7" />
<line x1="405.50" y1="62.37" x2="406.70" y2="62.37" stroke="#909090" stroke-width="0.7" />
<line x1="405.50" y1="54.44" x2="406.70" y2="54.44" stroke="#909090" stroke-width="0.7" />
<line x1="405.50" y1="38.56" x2="406.70" y2="38.56" stroke="#909090" stroke-width="0.7" />
<line x1="405.50" y1="30.62" x2="406.70" y2="30.62" stroke="#909090" stroke-width="0.7" />
<line x1="405.50" y1="22.69" x2="406.70" y2="22.69" stroke="#909090" stroke-width="0.7" />
<line x1="680.20" y1="173.50" x2="677.80" y2="173.50" stroke="#909090" stroke-width="0.8" />
<line x1="680.20" y1="141.75" x2="677.80" y2="141.75" stroke="#909090" stroke-width="0.8" />
<line x1="680.20" y1="110.00" x2="677.80" y2="110.00" stroke="#909090" stroke-width="0.8" />
<line x1="680.20" y1="78.25" x2="677.80" y2="78.25" stroke="#909090" stroke-width="0.8" />
<line x1="680.20" y1="46.50" x2="677.80" y2="46.50" stroke="#909090" stroke-width="0.8" />
<line x1="680.20" y1="14.75" x2="677.80" y2="14.75" stroke="#909090" stroke-width="0.8" />
<line x1="680.20" y1="165.56" x2="679.00" y2="165.56" stroke="#909090" stroke-width="0.7" />
<line x1="680.20" y1="157.62" x2="679.00" y2="157.62" stroke="#909090" stroke-width="0.7" />
<line x1="680.20" y1="149.69" x2="679.00" y2="149.69" stroke="#909090" stroke-width="0.7" />
<line x1="680.20" y1="133.81" x2="679.00" y2="133.81" stroke="#909090" stroke-width="0.7" />
<line x1="680.20" y1="125.88" x2="679.00" y2="125.88" stroke="#909090" stroke-width="0.7" />
<line x1="680.20" y1="117.94" x2="679.00" y2="117.94" stroke="#909090" stroke-width="0.7" />
<line x1="680.20" y1="102.06" x2="679.00" y2="102.06" stroke="#909090" stroke-width="0.7" />
<line x1="680.20" y1="94.12" x2="679.00" y2="94.12" stroke="#909090" stroke-width="0.7" />
<line x1="680.20" y1="86.19" x2="679.00" y2="86.19" stroke="#909090" stroke-width="0.7" />
<line x1="680.20" y1="70.31" x2="679.00" y2="70.31" stroke="#909090" stroke-width="0.7" />
<line x1="680.20" y1="62.37" x2="679.00" y2="62.37" stroke="#909090" stroke-width="0.7" />
<line x1="680.20" y1="54.44" x2="679.00" y2="54.44" stroke="#909090" stroke-width="0.7" />
<line x1="680.20" y1="38.56" x2="679.00" y2="38.56" stroke="#909090" stroke-width="0.7" />
<line x1="680.20" y1="30.62" x2="679.00" y2="30.62" stroke="#909090" stroke-width="0.7" />
<line x1="680.20" y1="22.69" x2="679.00" y2="22.69" stroke="#909090" stroke-width="0.7" />
<text transform="translate(411.10,195.00) scale(0.95,1)" text-anchor="middle" font-size="12.0"><tspan dy="1.2">−</tspan><tspan dx="1.2" dy="-1.2">1.6</tspan></text>
<text transform="translate(455.02,195.00) scale(0.95,1)" text-anchor="middle" font-size="12.0"><tspan dy="1.2">−</tspan><tspan dx="1.2" dy="-1.2">1.5</tspan></text>
<text transform="translate(498.93,195.00) scale(0.95,1)" text-anchor="middle" font-size="12.0"><tspan dy="1.2">−</tspan><tspan dx="1.2" dy="-1.2">1.4</tspan></text>
<text transform="translate(542.85,195.00) scale(0.95,1)" text-anchor="middle" font-size="12.0"><tspan dy="1.2">−</tspan><tspan dx="1.2" dy="-1.2">1.3</tspan></text>
<text transform="translate(586.77,195.00) scale(0.95,1)" text-anchor="middle" font-size="12.0"><tspan dy="1.2">−</tspan><tspan dx="1.2" dy="-1.2">1.2</tspan></text>
<text transform="translate(630.68,195.00) scale(0.95,1)" text-anchor="middle" font-size="12.0"><tspan dy="1.2">−</tspan><tspan dx="1.2" dy="-1.2">1.1</tspan></text>
<text transform="translate(674.60,195.00) scale(0.95,1)" text-anchor="middle" font-size="12.0"><tspan dy="1.2">−</tspan><tspan dx="1.2" dy="-1.2">1.0</tspan></text>
<text transform="translate(402.60,177.20) scale(0.95,1)" text-anchor="end" font-size="12.0">0.00000</text>
<text transform="translate(402.60,145.45) scale(0.95,1)" text-anchor="end" font-size="12.0">0.00002</text>
<text transform="translate(402.60,113.70) scale(0.95,1)" text-anchor="end" font-size="12.0">0.00004</text>
<text transform="translate(402.60,81.95) scale(0.95,1)" text-anchor="end" font-size="12.0">0.00006</text>
<text transform="translate(402.60,50.20) scale(0.95,1)" text-anchor="end" font-size="12.0">0.00008</text>
<text transform="translate(402.60,18.45) scale(0.95,1)" text-anchor="end" font-size="12.0">0.00010</text>
<text transform="translate(543.25,211.60) scale(0.95,1)" text-anchor="middle" font-size="12.0" font-style="italic">μ</text>
<text transform="translate(356.70,97.70) rotate(-90)" x="-11.07" y="0"><tspan font-style="italic" font-size="12.0">S</tspan><tspan font-size="8.3" dx="-0.1" dy="-4.4">2</tspan><tspan font-size="8.3" dx="-4.05" dy="7.40">Breg</tspan></text>
<line x1="418.50" y1="29.50" x2="454.30" y2="29.50" stroke="#0000ff" stroke-width="1.25" stroke-dasharray="2.85 2.0"/>
<text transform="translate(461.80,33.70) scale(0.95,1)" text-anchor="start" font-size="12.0">t=0.1</text>
<line x1="418.50" y1="49.70" x2="454.30" y2="49.70" stroke="#ff2020" stroke-width="1.15" stroke-dasharray="0.95 2.15"/>
<text transform="translate(461.80,53.90) scale(0.95,1)" text-anchor="start" font-size="12.0">t=0.2</text>
<line x1="418.50" y1="69.90" x2="454.30" y2="69.90" stroke="#00ff00" stroke-width="1.25" />
<text transform="translate(461.80,74.10) scale(0.95,1)" text-anchor="start" font-size="12.0">t=0.3</text>
<line x1="405.50" y1="393.40" x2="680.30" y2="393.40" stroke="#d6d6d6" stroke-width="1.25" />
<path d="M411.10,393.34 L412.87,393.34 L414.64,393.33 L416.41,393.33 L418.18,393.33 L419.95,393.32 L421.72,393.32 L423.49,393.31 L425.26,393.31 L427.03,393.30 L428.80,393.29 L430.57,393.29 L432.34,393.28 L434.11,393.28 L435.88,393.27 L437.65,393.26 L439.42,393.25 L441.19,393.25 L442.96,393.24 L444.73,393.23 L446.50,393.22 L448.27,393.21 L450.04,393.20 L451.81,393.19 L453.58,393.18 L455.34,393.17 L457.11,393.15 L458.88,393.14 L460.65,393.13 L462.42,393.12 L464.19,393.10 L465.96,393.09 L467.73,393.07 L469.50,393.06 L471.27,393.04 L473.04,393.02 L474.81,393.00 L476.58,392.99 L478.35,392.97 L480.12,392.95 L481.89,392.93 L483.66,392.90 L485.43,392.88 L487.20,392.86 L488.97,392.84 L490.74,392.81 L492.51,392.78 L494.28,392.76 L496.05,392.73 L497.82,392.70 L499.59,392.67 L501.36,392.64 L503.13,392.61 L504.90,392.58 L506.67,392.54 L508.44,392.51 L510.21,392.47 L511.98,392.43 L513.75,392.39 L515.52,392.35 L517.29,392.31 L519.06,392.27 L520.83,392.22 L522.60,392.18 L524.37,392.13 L526.14,392.08 L527.91,392.03 L529.68,391.98 L531.45,391.92 L533.22,391.87 L534.99,391.81 L536.76,391.75 L538.53,391.69 L540.30,391.63 L542.07,391.56 L543.83,391.50 L545.60,391.43 L547.37,391.36 L549.14,391.29 L550.91,391.21 L552.68,391.13 L554.45,391.05 L556.22,390.97 L557.99,390.89 L559.76,390.80 L561.53,390.71 L563.30,390.62 L565.07,390.53 L566.84,390.43 L568.61,390.33 L570.38,390.23 L572.15,390.12 L573.92,390.02 L575.69,389.90 L577.46,389.79 L579.23,389.67 L581.00,389.55 L582.77,389.43 L584.54,389.30 L586.31,389.17 L588.08,389.04 L589.85,388.90 L591.62,388.76 L593.39,388.62 L595.16,388.47 L596.93,388.32 L598.70,388.16 L600.47,388.00 L602.24,387.84 L604.01,387.67 L605.78,387.49 L607.55,387.32 L609.32,387.14 L611.09,386.95 L612.86,386.76 L614.63,386.57 L616.40,386.37 L618.17,386.16 L619.94,385.95 L621.71,385.74 L623.48,385.52 L625.25,385.29 L627.02,385.06 L628.79,384.83 L630.56,384.58 L632.32,384.34 L634.09,384.08 L635.86,383.83 L637.63,383.56 L639.40,383.29 L641.17,383.01 L642.94,382.73 L644.71,382.44 L646.48,382.14 L648.25,381.84 L650.02,381.53 L651.79,381.21 L653.56,380.89 L655.33,380.56 L657.10,380.22 L658.87,379.88 L660.64,379.52 L662.41,379.16 L664.18,378.79 L665.95,378.41 L667.72,378.03 L669.49,377.64 L671.26,377.24 L673.03,376.82 L674.80,376.41" fill="none" stroke="#0000ff" stroke-width="1.25" stroke-dasharray="2.9 1.95"/>
<path d="M411.10,393.17 L412.87,393.15 L414.64,393.14 L416.41,393.12 L418.18,393.10 L419.95,393.09 L421.72,393.07 L423.49,393.05 L425.26,393.03 L427.03,393.00 L428.80,392.98 L430.57,392.96 L432.34,392.93 L434.11,392.90 L435.88,392.87 L437.65,392.85 L439.42,392.81 L441.19,392.78 L442.96,392.75 L444.73,392.71 L446.50,392.68 L448.27,392.64 L450.04,392.60 L451.81,392.56 L453.58,392.51 L455.34,392.47 L457.11,392.42 L458.88,392.37 L460.65,392.32 L462.42,392.26 L464.19,392.21 L465.96,392.15 L467.73,392.09 L469.50,392.02 L471.27,391.96 L473.04,391.89 L474.81,391.82 L476.58,391.74 L478.35,391.67 L480.12,391.59 L481.89,391.50 L483.66,391.42 L485.43,391.33 L487.20,391.24 L488.97,391.14 L490.74,391.04 L492.51,390.94 L494.28,390.83 L496.05,390.72 L497.82,390.60 L499.59,390.49 L501.36,390.36 L503.13,390.24 L504.90,390.10 L506.67,389.97 L508.44,389.83 L510.21,389.68 L511.98,389.53 L513.75,389.37 L515.52,389.21 L517.29,389.04 L519.06,388.87 L520.83,388.69 L522.60,388.51 L524.37,388.32 L526.14,388.12 L527.91,387.92 L529.68,387.71 L531.45,387.50 L533.22,387.28 L534.99,387.05 L536.76,386.81 L538.53,386.57 L540.30,386.32 L542.07,386.06 L543.83,385.79 L545.60,385.52 L547.37,385.24 L549.14,384.94 L550.91,384.64 L552.68,384.34 L554.45,384.02 L556.22,383.69 L557.99,383.35 L559.76,383.01 L561.53,382.65 L563.30,382.29 L565.07,381.91 L566.84,381.52 L568.61,381.12 L570.38,380.71 L572.15,380.29 L573.92,379.86 L575.69,379.42 L577.46,378.96 L579.23,378.49 L581.00,378.01 L582.77,377.52 L584.54,377.01 L586.31,376.49 L588.08,375.95 L589.85,375.40 L591.62,374.84 L593.39,374.26 L595.16,373.67 L596.93,373.06 L598.70,372.44 L600.47,371.80 L602.24,371.14 L604.01,370.47 L605.78,369.78 L607.55,369.07 L609.32,368.35 L611.09,367.60 L612.86,366.84 L614.63,366.06 L616.40,365.26 L618.17,364.45 L619.94,363.61 L621.71,362.75 L623.48,361.87 L625.25,360.97 L627.02,360.05 L628.79,359.10 L630.56,358.14 L632.32,357.15 L634.09,356.14 L635.86,355.10 L637.63,354.05 L639.40,352.96 L641.17,351.85 L642.94,350.72 L644.71,349.56 L646.48,348.38 L648.25,347.16 L650.02,345.92 L651.79,344.66 L653.56,343.36 L655.33,342.04 L657.10,340.68 L658.87,339.30 L660.64,337.89 L662.41,336.44 L664.18,334.97 L665.95,333.46 L667.72,331.92 L669.49,330.35 L671.26,328.74 L673.03,327.10 L674.80,325.42" fill="none" stroke="#ff2020" stroke-width="1.15" stroke-dasharray="0.95 2.1"/>
<path d="M411.10,392.88 L412.87,392.85 L414.64,392.81 L416.41,392.77 L418.18,392.73 L419.95,392.69 L421.72,392.65 L423.49,392.60 L425.26,392.56 L427.03,392.51 L428.80,392.45 L430.57,392.40 L432.34,392.34 L434.11,392.28 L435.88,392.22 L437.65,392.15 L439.42,392.08 L441.19,392.01 L442.96,391.93 L444.73,391.85 L446.50,391.77 L448.27,391.68 L450.04,391.59 L451.81,391.50 L453.58,391.40 L455.34,391.30 L457.11,391.19 L458.88,391.08 L460.65,390.96 L462.42,390.84 L464.19,390.71 L465.96,390.58 L467.73,390.45 L469.50,390.30 L471.27,390.15 L473.04,390.00 L474.81,389.84 L476.58,389.67 L478.35,389.50 L480.12,389.32 L481.89,389.14 L483.66,388.94 L485.43,388.74 L487.20,388.53 L488.97,388.32 L490.74,388.09 L492.51,387.86 L494.28,387.62 L496.05,387.37 L497.82,387.11 L499.59,386.84 L501.36,386.57 L503.13,386.28 L504.90,385.98 L506.67,385.68 L508.44,385.36 L510.21,385.03 L511.98,384.69 L513.75,384.34 L515.52,383.97 L517.29,383.60 L519.06,383.21 L520.83,382.81 L522.60,382.40 L524.37,381.97 L526.14,381.53 L527.91,381.08 L529.68,380.61 L531.45,380.12 L533.22,379.62 L534.99,379.11 L536.76,378.58 L538.53,378.03 L540.30,377.46 L542.07,376.88 L543.83,376.28 L545.60,375.67 L547.37,375.03 L549.14,374.37 L550.91,373.70 L552.68,373.01 L554.45,372.29 L556.22,371.56 L557.99,370.80 L559.76,370.02 L561.53,369.22 L563.30,368.39 L565.07,367.55 L566.84,366.68 L568.61,365.78 L570.38,364.86 L572.15,363.91 L573.92,362.94 L575.69,361.94 L577.46,360.91 L579.23,359.86 L581.00,358.78 L582.77,357.66 L584.54,356.52 L586.31,355.35 L588.08,354.15 L589.85,352.91 L591.62,351.64 L593.39,350.34 L595.16,349.01 L596.93,347.64 L598.70,346.24 L600.47,344.80 L602.24,343.32 L604.01,341.80 L605.78,340.25 L607.55,338.66 L609.32,337.03 L611.09,335.36 L612.86,333.65 L614.63,331.89 L616.40,330.09 L618.17,328.25 L619.94,326.37 L621.71,324.44 L623.48,322.46 L625.25,320.43 L627.02,318.36 L628.79,316.24 L630.56,314.06 L632.32,311.84 L634.09,309.56 L635.86,307.23 L637.63,304.85 L639.40,302.41 L641.17,299.92 L642.94,297.37 L644.71,294.76 L646.48,292.09 L648.25,289.37 L650.02,286.58 L651.79,283.73 L653.56,280.81 L655.33,277.83 L657.10,274.79 L658.87,271.68 L660.64,268.50 L662.41,265.25 L664.18,261.93 L665.95,258.53 L667.72,255.07 L669.49,251.53 L671.26,247.92 L673.03,244.22 L674.80,240.46" fill="none" stroke="#00ff00" stroke-width="1.3" />
<rect x="405.50" y="232.50" width="274.80" height="169.10" fill="none" stroke="#9a9a9a" stroke-width="1"/>
<line x1="411.10" y1="401.60" x2="411.10" y2="399.20" stroke="#909090" stroke-width="0.8" />
<line x1="455.05" y1="401.60" x2="455.05" y2="399.20" stroke="#909090" stroke-width="0.8" />
<line x1="499.00" y1="401.60" x2="499.00" y2="399.20" stroke="#909090" stroke-width="0.8" />
<line x1="542.95" y1="401.60" x2="542.95" y2="399.20" stroke="#909090" stroke-width="0.8" />
<line x1="586.90" y1="401.60" x2="586.90" y2="399.20" stroke="#909090" stroke-width="0.8" />
<line x1="630.85" y1="401.60" x2="630.85" y2="399.20" stroke="#909090" stroke-width="0.8" />
<line x1="674.80" y1="401.60" x2="674.80" y2="399.20" stroke="#909090" stroke-width="0.8" />
<line x1="419.89" y1="401.60" x2="419.89" y2="400.40" stroke="#909090" stroke-width="0.7" />
<line x1="428.68" y1="401.60" x2="428.68" y2="400.40" stroke="#909090" stroke-width="0.7" />
<line x1="437.47" y1="401.60" x2="437.47" y2="400.40" stroke="#909090" stroke-width="0.7" />
<line x1="446.26" y1="401.60" x2="446.26" y2="400.40" stroke="#909090" stroke-width="0.7" />
<line x1="463.84" y1="401.60" x2="463.84" y2="400.40" stroke="#909090" stroke-width="0.7" />
<line x1="472.63" y1="401.60" x2="472.63" y2="400.40" stroke="#909090" stroke-width="0.7" />
<line x1="481.42" y1="401.60" x2="481.42" y2="400.40" stroke="#909090" stroke-width="0.7" />
<line x1="490.21" y1="401.60" x2="490.21" y2="400.40" stroke="#909090" stroke-width="0.7" />
<line x1="507.79" y1="401.60" x2="507.79" y2="400.40" stroke="#909090" stroke-width="0.7" />
<line x1="516.58" y1="401.60" x2="516.58" y2="400.40" stroke="#909090" stroke-width="0.7" />
<line x1="525.37" y1="401.60" x2="525.37" y2="400.40" stroke="#909090" stroke-width="0.7" />
<line x1="534.16" y1="401.60" x2="534.16" y2="400.40" stroke="#909090" stroke-width="0.7" />
<line x1="551.74" y1="401.60" x2="551.74" y2="400.40" stroke="#909090" stroke-width="0.7" />
<line x1="560.53" y1="401.60" x2="560.53" y2="400.40" stroke="#909090" stroke-width="0.7" />
<line x1="569.32" y1="401.60" x2="569.32" y2="400.40" stroke="#909090" stroke-width="0.7" />
<line x1="578.11" y1="401.60" x2="578.11" y2="400.40" stroke="#909090" stroke-width="0.7" />
<line x1="595.69" y1="401.60" x2="595.69" y2="400.40" stroke="#909090" stroke-width="0.7" />
<line x1="604.48" y1="401.60" x2="604.48" y2="400.40" stroke="#909090" stroke-width="0.7" />
<line x1="613.27" y1="401.60" x2="613.27" y2="400.40" stroke="#909090" stroke-width="0.7" />
<line x1="622.06" y1="401.60" x2="622.06" y2="400.40" stroke="#909090" stroke-width="0.7" />
<line x1="639.64" y1="401.60" x2="639.64" y2="400.40" stroke="#909090" stroke-width="0.7" />
<line x1="648.43" y1="401.60" x2="648.43" y2="400.40" stroke="#909090" stroke-width="0.7" />
<line x1="657.22" y1="401.60" x2="657.22" y2="400.40" stroke="#909090" stroke-width="0.7" />
<line x1="666.01" y1="401.60" x2="666.01" y2="400.40" stroke="#909090" stroke-width="0.7" />
<line x1="411.10" y1="232.50" x2="411.10" y2="234.90" stroke="#909090" stroke-width="0.8" />
<line x1="499.00" y1="232.50" x2="499.00" y2="234.90" stroke="#909090" stroke-width="0.8" />
<line x1="586.90" y1="232.50" x2="586.90" y2="234.90" stroke="#909090" stroke-width="0.8" />
<line x1="674.80" y1="232.50" x2="674.80" y2="234.90" stroke="#909090" stroke-width="0.8" />
<line x1="433.08" y1="232.50" x2="433.08" y2="233.70" stroke="#909090" stroke-width="0.7" />
<line x1="455.05" y1="232.50" x2="455.05" y2="233.70" stroke="#909090" stroke-width="0.7" />
<line x1="477.02" y1="232.50" x2="477.02" y2="233.70" stroke="#909090" stroke-width="0.7" />
<line x1="520.98" y1="232.50" x2="520.98" y2="233.70" stroke="#909090" stroke-width="0.7" />
<line x1="542.95" y1="232.50" x2="542.95" y2="233.70" stroke="#909090" stroke-width="0.7" />
<line x1="564.92" y1="232.50" x2="564.92" y2="233.70" stroke="#909090" stroke-width="0.7" />
<line x1="608.88" y1="232.50" x2="608.88" y2="233.70" stroke="#909090" stroke-width="0.7" />
<line x1="630.85" y1="232.50" x2="630.85" y2="233.70" stroke="#909090" stroke-width="0.7" />
<line x1="652.82" y1="232.50" x2="652.82" y2="233.70" stroke="#909090" stroke-width="0.7" />
<line x1="405.50" y1="393.40" x2="407.90" y2="393.40" stroke="#909090" stroke-width="0.8" />
<line x1="405.50" y1="357.12" x2="407.90" y2="357.12" stroke="#909090" stroke-width="0.8" />
<line x1="405.50" y1="320.84" x2="407.90" y2="320.84" stroke="#909090" stroke-width="0.8" />
<line x1="405.50" y1="284.56" x2="407.90" y2="284.56" stroke="#909090" stroke-width="0.8" />
<line x1="405.50" y1="248.28" x2="407.90" y2="248.28" stroke="#909090" stroke-width="0.8" />
<line x1="405.50" y1="386.14" x2="406.70" y2="386.14" stroke="#909090" stroke-width="0.7" />
<line x1="405.50" y1="378.89" x2="406.70" y2="378.89" stroke="#909090" stroke-width="0.7" />
<line x1="405.50" y1="371.63" x2="406.70" y2="371.63" stroke="#909090" stroke-width="0.7" />
<line x1="405.50" y1="364.38" x2="406.70" y2="364.38" stroke="#909090" stroke-width="0.7" />
<line x1="405.50" y1="349.86" x2="406.70" y2="349.86" stroke="#909090" stroke-width="0.7" />
<line x1="405.50" y1="342.61" x2="406.70" y2="342.61" stroke="#909090" stroke-width="0.7" />
<line x1="405.50" y1="335.35" x2="406.70" y2="335.35" stroke="#909090" stroke-width="0.7" />
<line x1="405.50" y1="328.10" x2="406.70" y2="328.10" stroke="#909090" stroke-width="0.7" />
<line x1="405.50" y1="313.58" x2="406.70" y2="313.58" stroke="#909090" stroke-width="0.7" />
<line x1="405.50" y1="306.33" x2="406.70" y2="306.33" stroke="#909090" stroke-width="0.7" />
<line x1="405.50" y1="299.07" x2="406.70" y2="299.07" stroke="#909090" stroke-width="0.7" />
<line x1="405.50" y1="291.82" x2="406.70" y2="291.82" stroke="#909090" stroke-width="0.7" />
<line x1="405.50" y1="277.30" x2="406.70" y2="277.30" stroke="#909090" stroke-width="0.7" />
<line x1="405.50" y1="270.05" x2="406.70" y2="270.05" stroke="#909090" stroke-width="0.7" />
<line x1="405.50" y1="262.79" x2="406.70" y2="262.79" stroke="#909090" stroke-width="0.7" />
<line x1="405.50" y1="255.54" x2="406.70" y2="255.54" stroke="#909090" stroke-width="0.7" />
<line x1="405.50" y1="241.02" x2="406.70" y2="241.02" stroke="#909090" stroke-width="0.7" />
<line x1="405.50" y1="233.77" x2="406.70" y2="233.77" stroke="#909090" stroke-width="0.7" />
<line x1="680.30" y1="393.40" x2="677.90" y2="393.40" stroke="#909090" stroke-width="0.8" />
<line x1="680.30" y1="357.12" x2="677.90" y2="357.12" stroke="#909090" stroke-width="0.8" />
<line x1="680.30" y1="320.84" x2="677.90" y2="320.84" stroke="#909090" stroke-width="0.8" />
<line x1="680.30" y1="284.56" x2="677.90" y2="284.56" stroke="#909090" stroke-width="0.8" />
<line x1="680.30" y1="248.28" x2="677.90" y2="248.28" stroke="#909090" stroke-width="0.8" />
<line x1="680.30" y1="386.14" x2="679.10" y2="386.14" stroke="#909090" stroke-width="0.7" />
<line x1="680.30" y1="378.89" x2="679.10" y2="378.89" stroke="#909090" stroke-width="0.7" />
<line x1="680.30" y1="371.63" x2="679.10" y2="371.63" stroke="#909090" stroke-width="0.7" />
<line x1="680.30" y1="364.38" x2="679.10" y2="364.38" stroke="#909090" stroke-width="0.7" />
<line x1="680.30" y1="349.86" x2="679.10" y2="349.86" stroke="#909090" stroke-width="0.7" />
<line x1="680.30" y1="342.61" x2="679.10" y2="342.61" stroke="#909090" stroke-width="0.7" />
<line x1="680.30" y1="335.35" x2="679.10" y2="335.35" stroke="#909090" stroke-width="0.7" />
<line x1="680.30" y1="328.10" x2="679.10" y2="328.10" stroke="#909090" stroke-width="0.7" />
<line x1="680.30" y1="313.58" x2="679.10" y2="313.58" stroke="#909090" stroke-width="0.7" />
<line x1="680.30" y1="306.33" x2="679.10" y2="306.33" stroke="#909090" stroke-width="0.7" />
<line x1="680.30" y1="299.07" x2="679.10" y2="299.07" stroke="#909090" stroke-width="0.7" />
<line x1="680.30" y1="291.82" x2="679.10" y2="291.82" stroke="#909090" stroke-width="0.7" />
<line x1="680.30" y1="277.30" x2="679.10" y2="277.30" stroke="#909090" stroke-width="0.7" />
<line x1="680.30" y1="270.05" x2="679.10" y2="270.05" stroke="#909090" stroke-width="0.7" />
<line x1="680.30" y1="262.79" x2="679.10" y2="262.79" stroke="#909090" stroke-width="0.7" />
<line x1="680.30" y1="255.54" x2="679.10" y2="255.54" stroke="#909090" stroke-width="0.7" />
<line x1="680.30" y1="241.02" x2="679.10" y2="241.02" stroke="#909090" stroke-width="0.7" />
<line x1="680.30" y1="233.77" x2="679.10" y2="233.77" stroke="#909090" stroke-width="0.7" />
<text transform="translate(411.10,414.70) scale(0.95,1)" text-anchor="middle" font-size="12.0"><tspan dy="1.2">−</tspan><tspan dx="1.2" dy="-1.2">1.6</tspan></text>
<text transform="translate(455.05,414.70) scale(0.95,1)" text-anchor="middle" font-size="12.0"><tspan dy="1.2">−</tspan><tspan dx="1.2" dy="-1.2">1.5</tspan></text>
<text transform="translate(499.00,414.70) scale(0.95,1)" text-anchor="middle" font-size="12.0"><tspan dy="1.2">−</tspan><tspan dx="1.2" dy="-1.2">1.4</tspan></text>
<text transform="translate(542.95,414.70) scale(0.95,1)" text-anchor="middle" font-size="12.0"><tspan dy="1.2">−</tspan><tspan dx="1.2" dy="-1.2">1.3</tspan></text>
<text transform="translate(586.90,414.70) scale(0.95,1)" text-anchor="middle" font-size="12.0"><tspan dy="1.2">−</tspan><tspan dx="1.2" dy="-1.2">1.2</tspan></text>
<text transform="translate(630.85,414.70) scale(0.95,1)" text-anchor="middle" font-size="12.0"><tspan dy="1.2">−</tspan><tspan dx="1.2" dy="-1.2">1.1</tspan></text>
<text transform="translate(674.80,414.70) scale(0.95,1)" text-anchor="middle" font-size="12.0"><tspan dy="1.2">−</tspan><tspan dx="1.2" dy="-1.2">1.0</tspan></text>
<text transform="translate(402.60,397.10) scale(0.95,1)" text-anchor="end" font-size="12.0">0.00000</text>
<text transform="translate(402.60,360.82) scale(0.95,1)" text-anchor="end" font-size="12.0">0.00005</text>
<text transform="translate(402.60,324.54) scale(0.95,1)" text-anchor="end" font-size="12.0">0.00010</text>
<text transform="translate(402.60,288.26) scale(0.95,1)" text-anchor="end" font-size="12.0">0.00015</text>
<text transform="translate(402.60,251.98) scale(0.95,1)" text-anchor="end" font-size="12.0">0.00020</text>
<text transform="translate(543.30,431.50) scale(0.95,1)" text-anchor="middle" font-size="12.0" font-style="italic">μ</text>
<text transform="translate(357.10,317.55) rotate(-90)" x="-11.07" y="0"><tspan font-style="italic" font-size="12.0">S</tspan><tspan font-size="8.3" dx="-0.1" dy="-4.4">2</tspan><tspan font-size="8.3" dx="-4.05" dy="7.40">Breg</tspan></text>
<line x1="422.80" y1="252.50" x2="458.60" y2="252.50" stroke="#0000ff" stroke-width="1.25" stroke-dasharray="2.85 2.0"/>
<text transform="translate(466.00,256.70) scale(0.95,1)" text-anchor="start" font-size="12.0">t=0.1</text>
<line x1="422.80" y1="272.70" x2="458.60" y2="272.70" stroke="#ff2020" stroke-width="1.15" stroke-dasharray="0.95 2.15"/>
<text transform="translate(466.00,276.90) scale(0.95,1)" text-anchor="start" font-size="12.0">t=0.2</text>
<line x1="422.80" y1="292.90" x2="458.60" y2="292.90" stroke="#00ff00" stroke-width="1.25" />
<text transform="translate(466.00,297.10) scale(0.95,1)" text-anchor="start" font-size="12.0">t=0.3</text>
</svg></body></html>
